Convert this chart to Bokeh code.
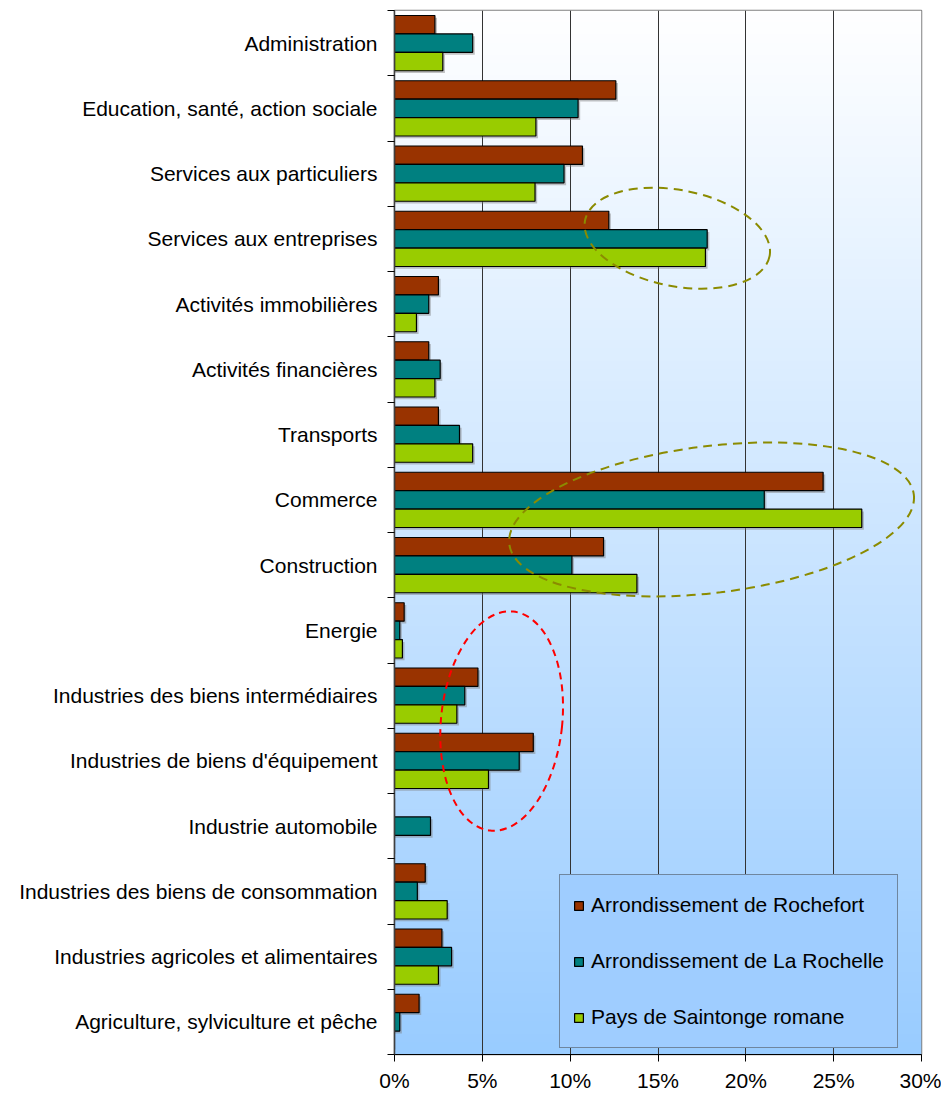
import numpy as np
from bokeh.plotting import figure
from bokeh.models import FixedTicker, PrintfTickFormatter, Legend, LegendItem
from bokeh.embed import file_html
from bokeh.resources import INLINE

# Sectors, listed from top to bottom
categories = [
    "Administration",
    "Education, santé, action sociale",
    "Services aux particuliers",
    "Services aux entreprises",
    "Activités immobilières",
    "Activités financières",
    "Transports",
    "Commerce",
    "Construction",
    "Energie",
    "Industries des biens intermédiaires",
    "Industries de biens d'équipement",
    "Industrie automobile",
    "Industries des biens de consommation",
    "Industries agricoles et alimentaires",
    "Agriculture, sylviculture et pêche",
]

# Share of employment by sector (%)
rochefort = [2.3, 12.6, 10.7, 12.2, 2.5, 1.95, 2.5, 24.4, 11.9, 0.55, 4.75, 7.9, 0.0, 1.75, 2.7, 1.4]
la_rochelle = [4.45, 10.45, 9.65, 17.8, 1.95, 2.6, 3.7, 21.05, 10.1, 0.3, 4.0, 7.1, 2.05, 1.3, 3.25, 0.3]
saintonge = [2.75, 8.05, 8.0, 17.7, 1.25, 2.3, 4.45, 26.6, 13.8, 0.45, 3.55, 5.35, 0.0, 3.0, 2.5, 0.0]

series_names = ["Arrondissement de Rochefort", "Arrondissement de La Rochelle", "Pays de Saintonge romane"]
x_ticks = [0, 5, 10, 15, 20, 25, 30]

FONT = "Liberation Sans"
colors = ["#993300", "#008080", "#99CC00"]

n = len(categories)
y_max = 2 * n
centers = [y_max - (2 * i + 1) for i in range(n)]
bounds = list(range(0, y_max + 1, 2))

p = figure(
    width=941, height=1094,
    x_range=(0, 30), y_range=(0, y_max),
    output_backend="svg", toolbar_location=None,
    min_border_left=394, min_border_right=20,
    min_border_top=10, min_border_bottom=39,
)
p.background_fill_color = "white"
p.border_fill_color = "white"
p.outline_line_color = "#808080"
p.outline_line_width = 1.5

# vertical white-to-blue gradient behind the plot area
rows = 256
t = np.linspace(0, 1, rows)  # 0 = bottom, 1 = top
r = (153 + (255 - 153) * t).astype(np.uint32)
g = (204 + (255 - 204) * t).astype(np.uint32)
b = np.full(rows, 255, dtype=np.uint32)
a = np.full(rows, 255, dtype=np.uint32)
rgba = (a << 24) | (b << 16) | (g << 8) | r
img = rgba.reshape(rows, 1).astype(np.uint32)
bg = p.image_rgba(image=[img], x=0, y=0, dw=30, dh=y_max)
bg.level = "image"

# grid
p.ygrid.visible = False
p.xgrid.ticker = FixedTicker(ticks=[5, 10, 15, 20, 25])
p.xgrid.grid_line_color = "#333333"
p.xgrid.grid_line_width = 1

# bars, each with a soft drop shadow
bar_h = 0.565
offsets = [bar_h, 0.0, -bar_h]
renderers = []
for vals, off, col in zip([rochefort, la_rochelle, saintonge], offsets, colors):
    ys = [c + off for c in centers]
    sh_right = [v + 0.12 if v > 0 else 0 for v in vals]
    p.hbar(y=[y - 0.07 for y in ys], right=sh_right, left=0, height=bar_h,
           fill_color="#7a7a7a", fill_alpha=0.45, line_color=None)
for vals, off, col in zip([rochefort, la_rochelle, saintonge], offsets, colors):
    ys = [c + off for c in centers]
    rr = p.hbar(y=ys, right=vals, left=0, height=bar_h,
                fill_color=col, line_color="black", line_width=1.2)
    renderers.append(rr)

# dashed highlight ellipses (x in %, y in band units)
hl_x = [16.1, 18.05, 6.1]
hl_y = [centers[3] + 0.02, centers[7] - 0.6, centers[11] + 1.22]
hl_w = [10.7, 23.2, 6.9]
hl_h = [2.95, 4.5, 6.75]
hl_angle = [-11, 7, -6]
hl_color = ["#8B8B00", "#8B8B00", "#FF0000"]
hl_dash = ["9 6", "9 6", "7 5"]
for x, y, w, h, ang, col, dash in zip(hl_x, hl_y, hl_w, hl_h, hl_angle, hl_color, hl_dash):
    p.ellipse(x=x, y=y, width=w, height=h, angle=ang, angle_units="deg",
              fill_alpha=0, line_color=col, line_width=2, line_dash=dash)

# axes
p.xaxis.ticker = FixedTicker(ticks=x_ticks)
p.xaxis.formatter = PrintfTickFormatter(format="%d%%")
p.xaxis.major_label_text_font = FONT
p.xaxis.major_label_text_font_size = "21px"
p.xaxis.major_label_text_color = "black"
p.xaxis.major_tick_out = 7
p.xaxis.major_tick_in = 0
p.xaxis.minor_tick_line_color = None
p.xaxis.axis_line_color = "black"
p.xaxis.major_tick_line_color = "black"
p.xaxis.major_label_standoff = 7

p.yaxis.ticker = FixedTicker(ticks=centers, minor_ticks=bounds)
p.yaxis.major_label_overrides = {c: name for c, name in zip(centers, categories)}
p.yaxis.major_label_text_font = FONT
p.yaxis.major_label_text_font_size = "21px"
p.yaxis.major_label_text_color = "black"
p.yaxis.major_tick_out = 0
p.yaxis.major_tick_in = 0
p.yaxis.minor_tick_out = 7
p.yaxis.minor_tick_in = 0
p.yaxis.minor_tick_line_color = "black"
p.yaxis.axis_line_color = "#404040"
p.yaxis.axis_line_width = 1.5
p.yaxis.major_label_standoff = 10

legend = Legend(
    items=[LegendItem(label=nm, renderers=[rr]) for nm, rr in zip(series_names, renderers)],
    location=(165, 6),
    border_line_color="#404040", border_line_width=1,
    background_fill_color="#9FCDFF", background_fill_alpha=1,
    glyph_width=11, glyph_height=11, label_height=34,
    label_text_font=FONT, label_text_font_size="21px", label_text_color="black",
    label_standoff=7, spacing=22, padding=13, margin=0,
)
p.add_layout(legend)

open("out.html", "w").write(file_html(p, INLINE))
